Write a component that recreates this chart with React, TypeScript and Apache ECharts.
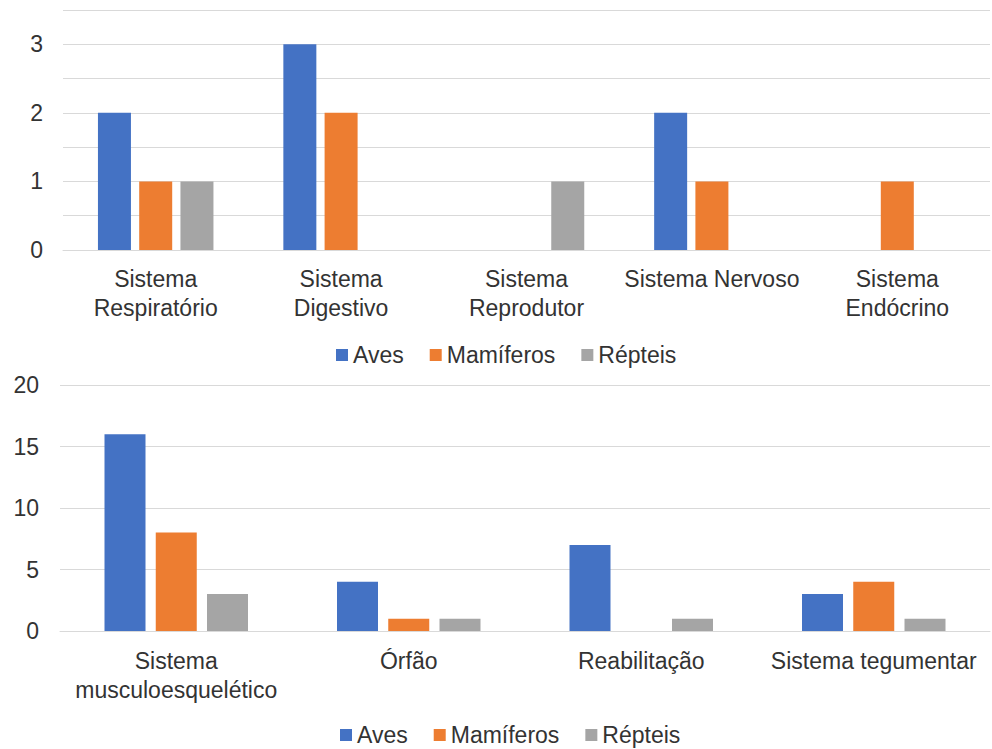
import React, { useEffect, useRef } from "react";
import * as echarts from "echarts";

const seriesNames = ["Aves", "Mamíferos", "Répteis"];
const colors = ["#4472C4", "#ED7D31", "#A5A5A5"];

const topCategories = [
  "Sistema\nRespiratório",
  "Sistema\nDigestivo",
  "Sistema\nReprodutor",
  "Sistema Nervoso",
  "Sistema\nEndócrino",
];
const topAves = [2, 3, 0, 2, 0];
const topMamiferos = [1, 2, 0, 1, 1];
const topRepteis = [1, 0, 1, 0, 0];

const bottomCategories = [
  "Sistema\nmusculoesquelético",
  "Órfão",
  "Reabilitação",
  "Sistema tegumentar",
];
const bottomAves = [16, 4, 7, 3];
const bottomMamiferos = [8, 1, 0, 4];
const bottomRepteis = [3, 1, 1, 1];

const FONT = "'Liberation Sans', Arial, sans-serif";
const TEXT = "#333333";
const GRID = "#D9D9D9";

export default function App() {
  const ref = useRef<HTMLDivElement>(null);

  useEffect(() => {
    document.body.style.margin = "0";
    if (!ref.current) return;
    const chart = echarts.init(ref.current, undefined, { renderer: "svg" });

    const topData = [topAves, topMamiferos, topRepteis];
    const bottomData = [bottomAves, bottomMamiferos, bottomRepteis];

    const legendCommon = {
      data: seriesNames,
      icon: "rect",
      itemWidth: 12,
      itemHeight: 12,
      itemGap: 26,
      padding: 0,
      textStyle: { fontSize: 23, color: TEXT, fontFamily: FONT, lineHeight: 24 },
      selectedMode: false,
    };

    const option: any = {
      animation: false,
      backgroundColor: "#ffffff",
      textStyle: { fontFamily: FONT },
      legend: [
        { ...legendCommon, left: 336, top: 343 },
        { ...legendCommon, left: 340, top: 723 },
      ],
      grid: [
        { left: 63, right: 2, top: 10, height: 240 },
        { left: 60, right: 2, top: 385, height: 246 },
      ],
      xAxis: [
        {
          type: "category",
          gridIndex: 0,
          data: topCategories,
          axisLine: { lineStyle: { color: GRID, width: 1 } },
          axisTick: { show: false },
          axisLabel: {
            fontSize: 23,
            color: TEXT,
            fontFamily: FONT,
            lineHeight: 29,
            margin: 14,
            interval: 0,
          },
        },
        {
          type: "category",
          gridIndex: 1,
          data: bottomCategories,
          axisLine: { lineStyle: { color: GRID, width: 1 } },
          axisTick: { show: false },
          axisLabel: {
            fontSize: 23,
            color: TEXT,
            fontFamily: FONT,
            lineHeight: 29,
            margin: 15,
            interval: 0,
          },
        },
      ],
      yAxis: [
        {
          type: "value",
          gridIndex: 0,
          min: 0,
          max: 3.5,
          interval: 0.5,
          axisLine: { show: false },
          axisTick: { show: false },
          splitLine: { lineStyle: { color: GRID, width: 1 } },
          axisLabel: {
            fontSize: 23,
            color: TEXT,
            fontFamily: FONT,
            margin: 20,
            formatter: (v: number) => (Number.isInteger(v) ? String(v) : ""),
          },
        },
        {
          type: "value",
          gridIndex: 1,
          min: 0,
          max: 20,
          interval: 5,
          axisLine: { show: false },
          axisTick: { show: false },
          splitLine: { lineStyle: { color: GRID, width: 1 } },
          axisLabel: {
            fontSize: 23,
            color: TEXT,
            fontFamily: FONT,
            margin: 21,
          },
        },
      ],
      series: [
        ...seriesNames.map((name, i) => ({
          name,
          type: "bar",
          xAxisIndex: 0,
          yAxisIndex: 0,
          data: topData[i],
          barWidth: 33,
          barGap: "25%",
          itemStyle: { color: colors[i] },
        })),
        ...seriesNames.map((name, i) => ({
          name,
          type: "bar",
          xAxisIndex: 1,
          yAxisIndex: 1,
          data: bottomData[i],
          barWidth: 41,
          barGap: "25%",
          itemStyle: { color: colors[i] },
        })),
      ],
    };

    chart.setOption(option);
    return () => chart.dispose();
  }, []);

  return <div ref={ref} style={{ width: 992, height: 749 }} />;
}
